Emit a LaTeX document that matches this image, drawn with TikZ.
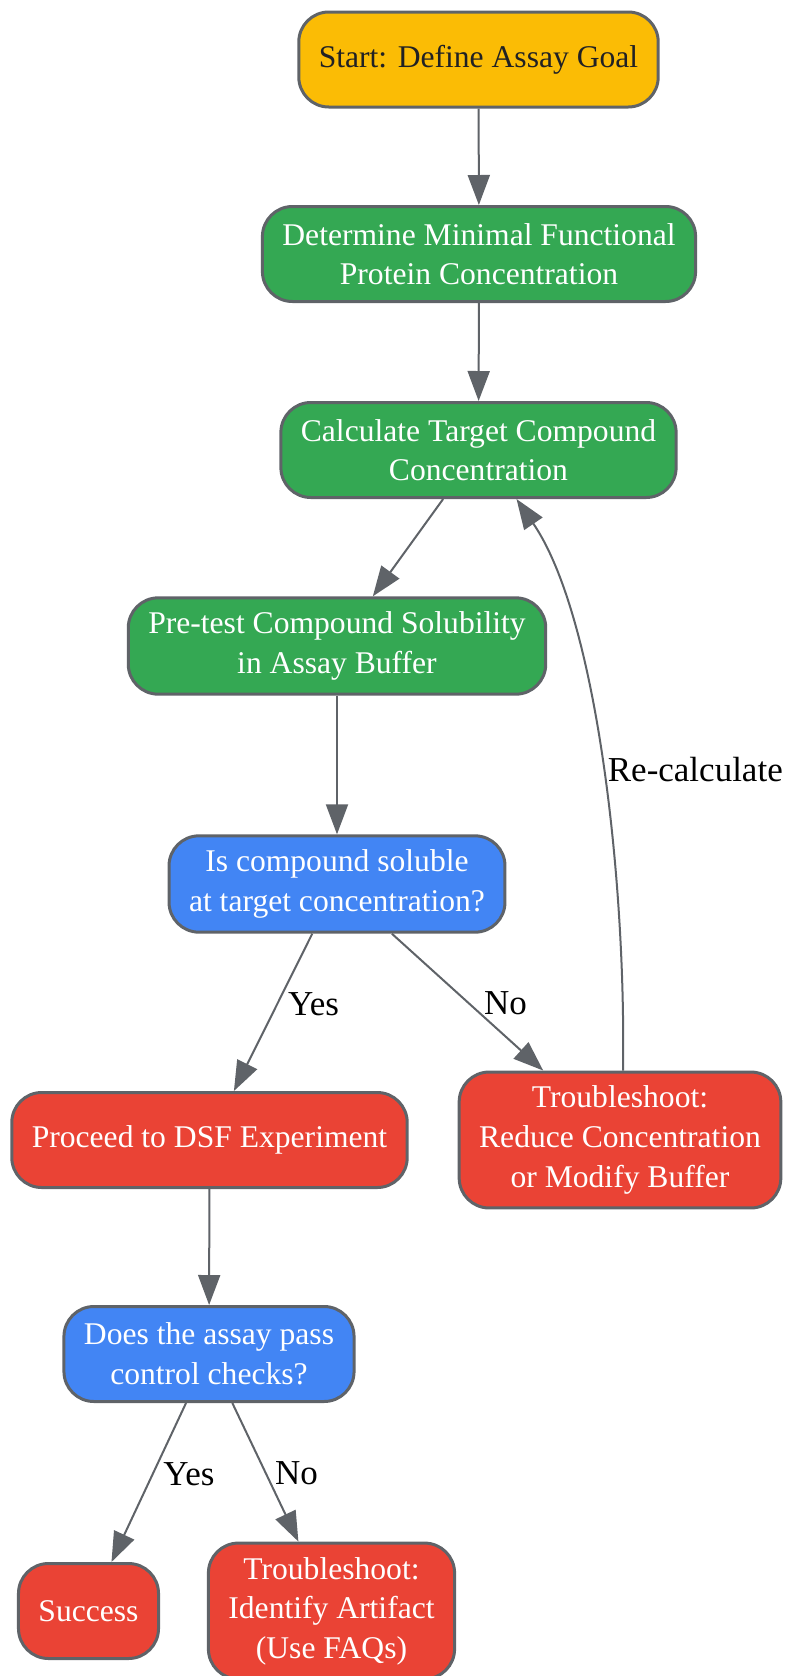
\documentclass[tikz,border=0pt]{standalone}
\usepackage{fontspec}
\setmainfont{Liberation Serif}
\usetikzlibrary{arrows.meta}

\definecolor{startyellow}{HTML}{FBBC05}
\definecolor{stepgreen}{HTML}{34A853}
\definecolor{askblue}{HTML}{4285F4}
\definecolor{endred}{HTML}{EA4335}
\definecolor{edgegray}{HTML}{5F6368}
\definecolor{darktext}{HTML}{202124}

\tikzset{
  box/.style={draw=edgegray, line width=1.5pt, rounded corners=15pt,
    align=center, minimum height=47.5pt, inner xsep=10pt, inner ysep=7pt,
    text=white, font=\fontsize{15.8}{19.8}\selectfont},
  startbox/.style={box, fill=startyellow, text=darktext},
  greenbox/.style={box, fill=stepgreen},
  bluebox/.style={box, fill=askblue},
  redbox/.style={box, fill=endred},
  link/.style={->, draw=edgegray, line width=1pt},
  lbl/.style={text=black, inner sep=2pt, font=\fontsize{17.5}{21}\selectfont}
}

\begin{document}
\begin{tikzpicture}[x=0.5pt, y=-0.5pt,
    >={Triangle[length=15pt,width=11pt]}]
    \useasboundingbox (0,0) rectangle (796,1676);
    \node[startbox] (start) at (478.5,59.5) {Start: Define Assay Goal};
    \node[greenbox] (minprot) at (479,254) {Determine Minimal Functional\\Protein Concentration};
    \node[greenbox] (calc) at (478.5,450) {Calculate Target Compound\\Concentration};
    \node[greenbox] (pretest) at (337,646) {Pre-test Compound Solubility\\in Assay Buffer};
    \node[bluebox] (soluble) at (337,884) {Is compound soluble\\at target concentration?};
    \node[redbox] (dsf) at (209.5,1140) {Proceed to DSF Experiment};
    \node[redbox] (fixconc) at (620,1140) {Troubleshoot:\\Reduce Concentration\\or Modify Buffer};
    \node[bluebox] (controls) at (209,1354) {Does the assay pass\\control checks?};
    \node[redbox] (success) at (88.5,1611) {Success};
    \node[redbox] (artifact) at (331.5,1611) {Troubleshoot:\\Identify Artifact\\(Use FAQs)};
    % main path
    \draw[link] (start) -- (minprot);
    \draw[link] (minprot) -- (calc);
    \draw[link] (calc) -- (pretest);
    \draw[link] (pretest) -- (soluble);
    % solubility decision
    \draw[link] (soluble) -- node[lbl, pos=0.45, anchor=west, xshift=3pt] {Yes} (dsf);
    \draw[link] (soluble) -- node[lbl, pos=0.51, anchor=west, xshift=5pt] {No} (fixconc);
    \draw[link] ([xshift=1.5pt]fixconc.north) .. controls +(3,-192) and +(80,117) ..
      node[lbl, pos=0.48, anchor=west, xshift=0pt] {Re-calculate} ([xshift=19pt]calc.south);
    % control decision
    \draw[link] (dsf) -- (controls);
    \draw[link] (controls) -- node[lbl, pos=0.45, anchor=west, xshift=3pt] {Yes} (success);
    \draw[link] (controls) -- node[lbl, pos=0.51, anchor=west, xshift=2pt] {No} (artifact);
\end{tikzpicture}
\end{document}
